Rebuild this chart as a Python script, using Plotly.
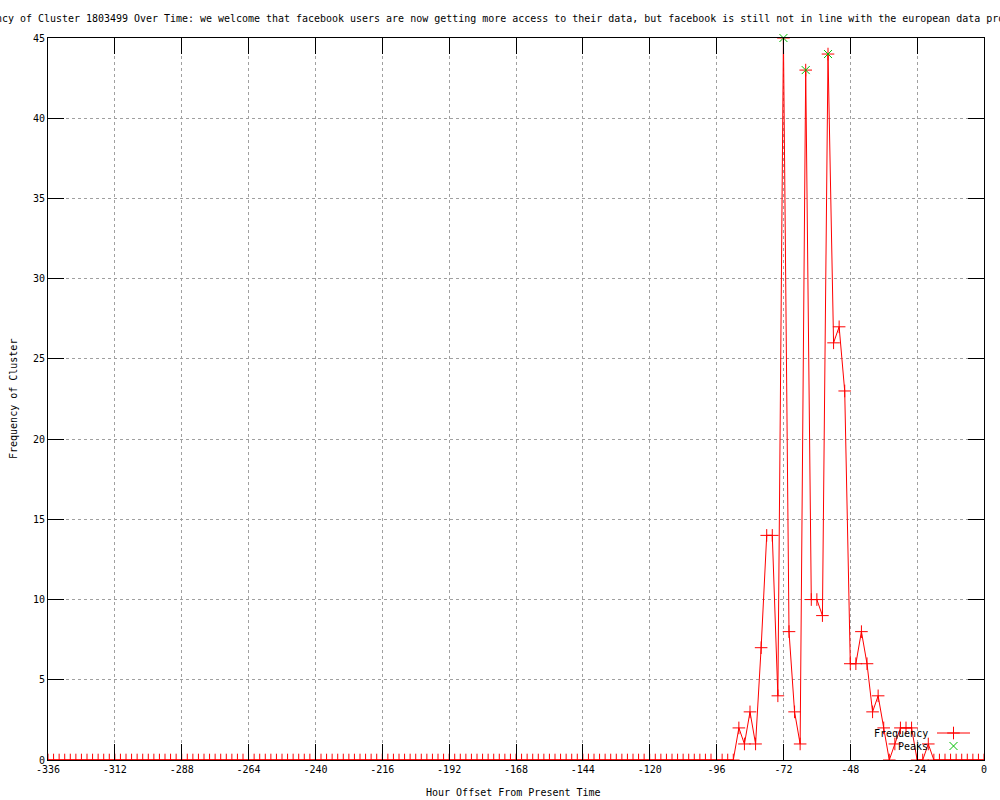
import plotly.graph_objects as go

# ---- data ----
hours = list(range(-336, 1, 2))
nonzero = {
    -88: 2, -86: 1, -84: 3, -82: 1, -80: 7, -78: 14, -76: 14, -74: 4,
    -72: 45, -70: 8, -68: 3, -66: 1, -64: 43, -62: 10, -60: 10, -58: 9,
    -56: 44, -54: 26, -52: 27, -50: 23, -48: 6, -46: 6, -44: 8, -42: 6,
    -40: 3, -38: 4, -36: 2, -34: 0, -32: 1, -30: 2, -28: 2, -26: 2,
    -24: 0, -22: 0, -20: 1, -18: 0,
}
frequency = [nonzero.get(h, 0) for h in hours]
peak_hours = [-72, -64, -56]
peak_values = [45, 43, 44]

x_tick_vals = list(range(-336, 1, 24))
x_tick_text = [str(v) for v in x_tick_vals]
y_tick_vals = list(range(0, 46, 5))
y_tick_text = [str(v) for v in y_tick_vals]

title_text = ("Frequency of Cluster 1803499 Over Time: we welcome that facebook users are now "
              "getting more access to their data, but facebook is still not in line with the "
              "european data protection law")

MONO = "DejaVu Sans Mono"
RED = "#ff0000"
GREEN = "#00c000"

fig = go.Figure()
fig.add_trace(go.Scatter(
    x=hours, y=frequency, mode="lines+markers", name="Frequency",
    line=dict(color=RED, width=1),
    marker=dict(symbol="cross-thin", size=9, line=dict(color=RED, width=1), color=RED),
    showlegend=False,
))
fig.add_trace(go.Scatter(
    x=peak_hours, y=peak_values, mode="markers", name="Peaks",
    marker=dict(symbol="x-thin", size=8, line=dict(color=GREEN, width=1), color=GREEN),
    cliponaxis=False, showlegend=False,
))

# legend key (gnuplot style: text then sample), on an overlay axis in pixel units
fig.add_trace(go.Scatter(
    x=[937, 970], y=[733, 733], mode="lines", xaxis="x2", yaxis="y2",
    line=dict(color=RED, width=1), showlegend=False, hoverinfo="skip",
))
fig.add_trace(go.Scatter(
    x=[953.5], y=[733], mode="markers", xaxis="x2", yaxis="y2",
    marker=dict(symbol="cross-thin", size=9, line=dict(color=RED, width=1)),
    showlegend=False, hoverinfo="skip",
))
fig.add_trace(go.Scatter(
    x=[953.5], y=[746], mode="markers", xaxis="x2", yaxis="y2",
    marker=dict(symbol="x-thin", size=8, line=dict(color=GREEN, width=1)),
    showlegend=False, hoverinfo="skip",
))

axis_common = dict(
    showline=True, linecolor="black", linewidth=1, mirror="ticks",
    ticks="inside", ticklen=16, tickcolor="black", tickwidth=1,
    showgrid=True, gridcolor="#a0a0a0", griddash="dot", gridwidth=1,
    zeroline=False, automargin=False,
    tickfont=dict(family=MONO, size=10, color="black"),
)

fig.update_layout(
    width=1000, height=800,
    margin=dict(l=48, r=16, t=38, b=40),
    paper_bgcolor="white", plot_bgcolor="white",
    xaxis=dict(range=[-336, 0], tickmode="array", tickvals=x_tick_vals,
               ticktext=x_tick_text, **axis_common),
    yaxis=dict(range=[0, 45], tickmode="array", tickvals=y_tick_vals,
               ticktext=y_tick_text, **axis_common),
    xaxis2=dict(range=[48, 984], overlaying="x", visible=False, fixedrange=True),
    yaxis2=dict(range=[760, 38], overlaying="y", visible=False, fixedrange=True),
    font=dict(family=MONO, size=10, color="black"),
    showlegend=False,
)

annotations = [
    dict(text=title_text, xref="paper", yref="paper",
         x=(-42 - 48) / 936, y=1 + (38 - 19) / 722, xanchor="left", yanchor="middle",
         showarrow=False, font=dict(family=MONO, size=9.97, color="black")),
    dict(text="Hour Offset From Present Time", xref="paper", yref="paper",
         x=(513 - 48) / 936, y=-(793 - 760) / 722, xanchor="center", yanchor="middle",
         showarrow=False, font=dict(family=MONO, size=10, color="black")),
    dict(text="Frequency of Cluster", xref="paper", yref="paper", textangle=-90,
         x=-(48 - 13) / 936, y=0.5, xanchor="center", yanchor="middle",
         showarrow=False, font=dict(family=MONO, size=10, color="black")),
    dict(text="Frequency", xref="x2", yref="y2", x=930, y=733,
         xanchor="right", yanchor="middle", showarrow=False,
         font=dict(family=MONO, size=10, color="black")),
    dict(text="Peaks", xref="x2", yref="y2", x=930, y=746,
         xanchor="right", yanchor="middle", showarrow=False,
         font=dict(family=MONO, size=10, color="black")),
]
fig.update_layout(annotations=annotations)

fig.write_html("out.html", config={"displayModeBar": False},
               post_script="document.body.style.margin='0';")
